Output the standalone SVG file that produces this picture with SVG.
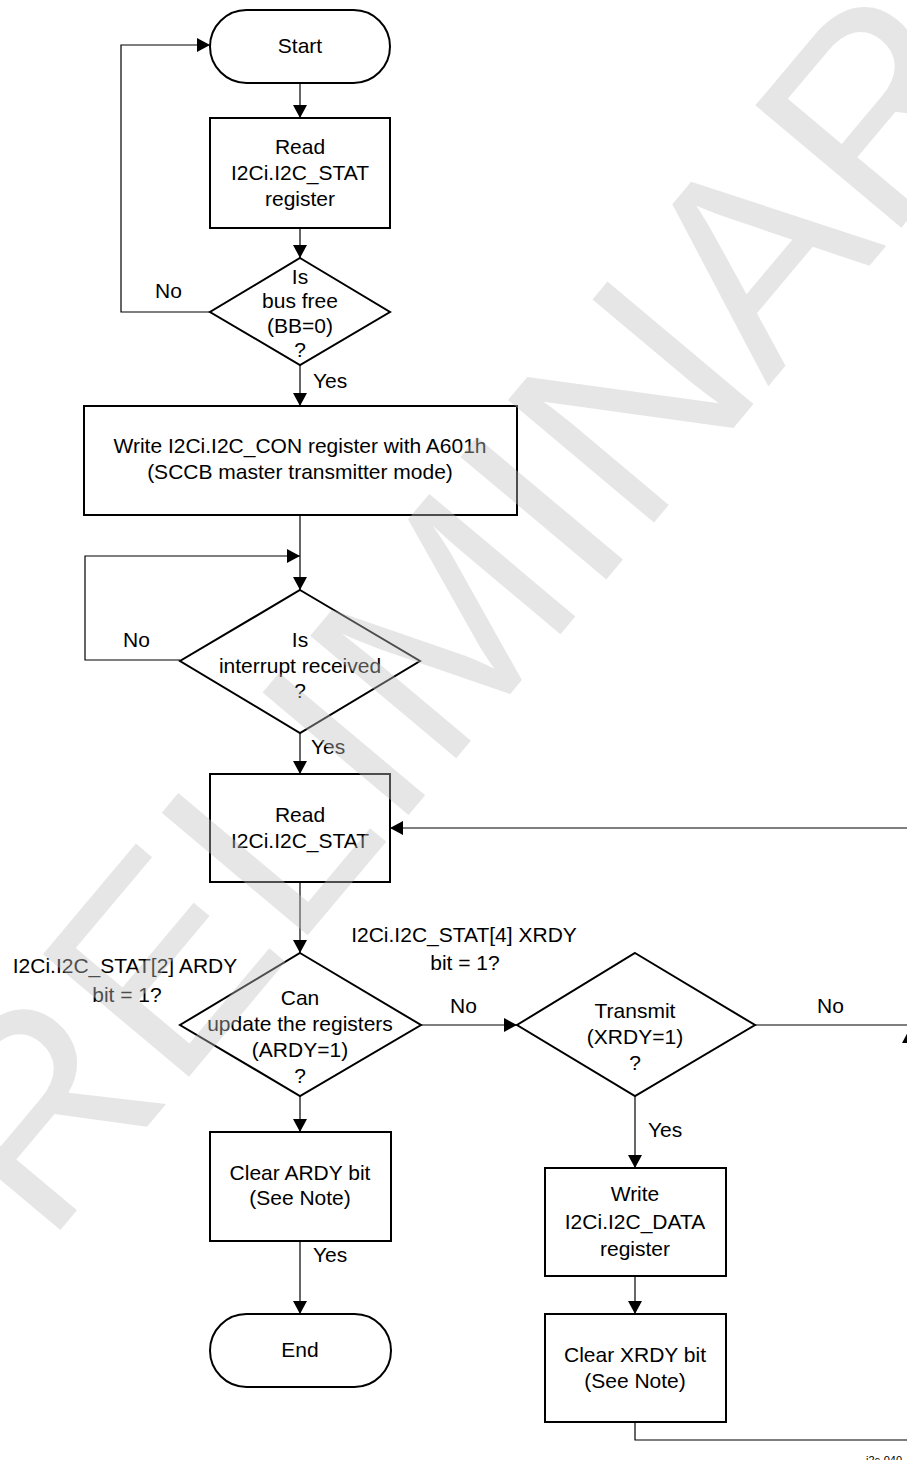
<svg xmlns="http://www.w3.org/2000/svg" width="907" height="1460" viewBox="0 0 907 1460">
<style>
.shape{fill:#fff;stroke:#000;stroke-width:2}
.conn{fill:none;stroke:#000;stroke-width:1.2}
.t{font-family:"Liberation Sans",Arial,sans-serif;font-size:21px;fill:#000;text-anchor:middle}
.l{font-family:"Liberation Sans",Arial,sans-serif;font-size:21px;fill:#000}
.wm{font-family:"Liberation Sans",Arial,sans-serif;font-size:277px;fill:#c0c0c0;fill-opacity:0.4}
</style>
<defs>
<marker id="ah" viewBox="0 0 13 14" refX="13" refY="7" markerWidth="13" markerHeight="14" orient="auto" markerUnits="userSpaceOnUse">
<path d="M0,0 L13,7 L0,14 z" fill="#000"/>
</marker>
</defs>
<rect width="907" height="1460" fill="#fff"/>
<g id="connectors">
<path class="conn" d="M300,83 V118" marker-end="url(#ah)"/>
<path class="conn" d="M300,228 V258" marker-end="url(#ah)"/>
<path class="conn" d="M210,312 H121 V45 H210" marker-end="url(#ah)"/>
<path class="conn" d="M300,365 V406" marker-end="url(#ah)"/>
<path class="conn" d="M300,515 V590" marker-end="url(#ah)"/>
<path class="conn" d="M180,660 H85 V556 H300" marker-end="url(#ah)"/>
<path class="conn" d="M300,733 V774" marker-end="url(#ah)"/>
<path class="conn" d="M300,882 V953" marker-end="url(#ah)"/>
<path class="conn" d="M300,1096 V1132" marker-end="url(#ah)"/>
<path class="conn" d="M300,1241 V1314" marker-end="url(#ah)"/>
<path class="conn" d="M421,1025 H517" marker-end="url(#ah)"/>
<path class="conn" d="M755,1025 H909 V828 H390" marker-end="url(#ah)"/>
<path class="conn" d="M635,1096 V1168" marker-end="url(#ah)"/>
<path class="conn" d="M635,1276 V1314" marker-end="url(#ah)"/>
<path class="conn" d="M635,1422 V1440 H909 V1030" marker-end="url(#ah)"/>
<text class="l" x="155" y="298">No</text>
<text class="l" x="313" y="388">Yes</text>
<text class="l" x="123" y="647">No</text>
<text class="l" x="311" y="754">Yes</text>
<text class="t" x="125" y="973">I2Ci.I2C_STAT[2] ARDY</text>
<text class="t" x="127" y="1002">bit = 1?</text>
<text class="t" x="464" y="942">I2Ci.I2C_STAT[4] XRDY</text>
<text class="t" x="465" y="970">bit = 1?</text>
<text class="l" x="450" y="1013">No</text>
<text class="l" x="817" y="1013">No</text>
<text class="l" x="648" y="1137">Yes</text>
<text class="l" x="313" y="1262">Yes</text>
<text class="l" x="866" y="1464" style="font-size:11px">i2c-040</text>
</g>
<g id="start">
<rect class="shape" x="210" y="10" width="180" height="73" rx="36.5"/>
<text class="t" x="300" y="53">Start</text>
</g>
<g id="read-stat-1">
<rect class="shape" x="210" y="118" width="180" height="110"/>
<text class="t" x="300" y="154">Read</text>
<text class="t" x="300" y="180">I2Ci.I2C_STAT</text>
<text class="t" x="300" y="206">register</text>
</g>
<g id="bus-free">
<polygon class="shape" points="300,258 390,312 300,365 210,312"/>
<text class="t" x="300" y="284">Is</text>
<text class="t" x="300" y="308">bus free</text>
<text class="t" x="300" y="333">(BB=0)</text>
<text class="t" x="300" y="357">?</text>
</g>
<g id="write-con">
<rect class="shape" x="84" y="406" width="433" height="109"/>
<text class="t" x="300" y="453">Write I2Ci.I2C_CON register with A601h</text>
<text class="t" x="300" y="479">(SCCB master transmitter mode)</text>
</g>
<g id="interrupt">
<polygon class="shape" points="300,590 420,661 300,733 180,661"/>
<text class="t" x="300" y="647">Is</text>
<text class="t" x="300" y="673">interrupt received</text>
<text class="t" x="300" y="698">?</text>
</g>
<g id="read-stat-2">
<rect class="shape" x="210" y="774" width="180" height="108"/>
<text class="t" x="300" y="822">Read</text>
<text class="t" x="300" y="848">I2Ci.I2C_STAT</text>
</g>
<g id="ardy">
<polygon class="shape" points="300,953 421,1025 300,1096 180,1025"/>
<text class="t" x="300" y="1005">Can</text>
<text class="t" x="300" y="1031">update the registers</text>
<text class="t" x="300" y="1057">(ARDY=1)</text>
<text class="t" x="300" y="1083">?</text>
</g>
<g id="xrdy">
<polygon class="shape" points="635,953 755,1025 635,1096 517,1025"/>
<text class="t" x="635" y="1018">Transmit</text>
<text class="t" x="635" y="1044">(XRDY=1)</text>
<text class="t" x="635" y="1070">?</text>
</g>
<g id="clear-ardy">
<rect class="shape" x="210" y="1132" width="181" height="109"/>
<text class="t" x="300" y="1180">Clear ARDY bit</text>
<text class="t" x="300" y="1205">(See Note)</text>
</g>
<g id="end">
<rect class="shape" x="210" y="1314" width="181" height="73" rx="36.5"/>
<text class="t" x="300" y="1357">End</text>
</g>
<g id="write-data">
<rect class="shape" x="545" y="1168" width="181" height="108"/>
<text class="t" x="635" y="1201">Write</text>
<text class="t" x="635" y="1229">I2Ci.I2C_DATA</text>
<text class="t" x="635" y="1256">register</text>
</g>
<g id="clear-xrdy">
<rect class="shape" x="545" y="1314" width="181" height="108"/>
<text class="t" x="635" y="1362">Clear XRDY bit</text>
<text class="t" x="635" y="1388">(See Note)</text>
</g>
<g id="watermark">
<text class="wm" transform="translate(-73,1389) rotate(-50)">PRELIMINARY</text>
</g>
</svg>
